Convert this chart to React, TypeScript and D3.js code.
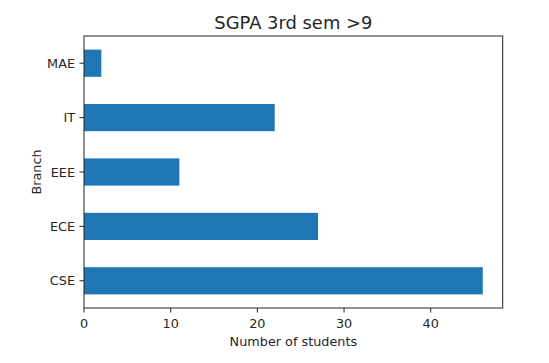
import React from "react";
import * as d3 from "d3";

const categories = ["CSE", "ECE", "EEE", "IT", "MAE"];
const values = [46, 27, 11, 22, 2];
const xTicks = [0, 10, 20, 30, 40];
const title = "SGPA 3rd sem >9";
const xLabel = "Number of students";
const yLabel = "Branch";

const W = 549;
const H = 363;
const L = 84;
const R = 502.7;
const T = 36;
const B = 308;
const FONT = "DejaVu Sans, sans-serif";

export default function App() {
  const xMax = d3.max(values)! * 1.05;
  const x = d3.scaleLinear().domain([0, xMax]).range([L, R]);
  const y = d3.scaleLinear().domain([-0.5, categories.length - 0.5]).range([B, T]);
  const bh = Math.abs(y(0.25) - y(-0.25));

  return (
    <svg
      width={W}
      height={H}
      style={{ position: "absolute", left: 0, top: 0, background: "#fff" }}
      fontFamily={FONT}
    >
      <rect x={0} y={0} width={W} height={H} fill="#fff" />
      {values.map((v, i) => (
        <rect
          key={categories[i]}
          x={x(0)}
          y={y(i) - bh / 2}
          width={x(v) - x(0)}
          height={bh}
          fill="#1f77b4"
        />
      ))}
      <rect x={L} y={T} width={R - L} height={B - T} fill="none" stroke="#222" strokeWidth={1} />
      {xTicks.map((t) => (
        <g key={t}>
          <line x1={x(t)} x2={x(t)} y1={B} y2={B + 4.5} stroke="#222" strokeWidth={1} />
          <text x={x(t)} y={B + 20} textAnchor="middle" fontSize={12.8} fill="#262626">
            {t}
          </text>
        </g>
      ))}
      {categories.map((c, i) => (
        <g key={c}>
          <line x1={L - 4.5} x2={L} y1={y(i)} y2={y(i)} stroke="#222" strokeWidth={1} />
          <text
            x={L - 9}
            y={y(i)}
            dy="0.36em"
            textAnchor="end"
            fontSize={12.8}
            fill="#262626"
          >
            {c}
          </text>
        </g>
      ))}
      <text x={(L + R) / 2} y={345.5} textAnchor="middle" fontSize={12.8} fill="#262626">
        {xLabel}
      </text>
      <text
        transform={`translate(40.5,${(T + B) / 2}) rotate(-90)`}
        textAnchor="middle"
        fontSize={12.8}
        fill="#262626"
      >
        {yLabel}
      </text>
      <text x={(L + R) / 2} y={29} textAnchor="middle" fontSize={17.9} fill="#262626">
        {title}
      </text>
    </svg>
  );
}
